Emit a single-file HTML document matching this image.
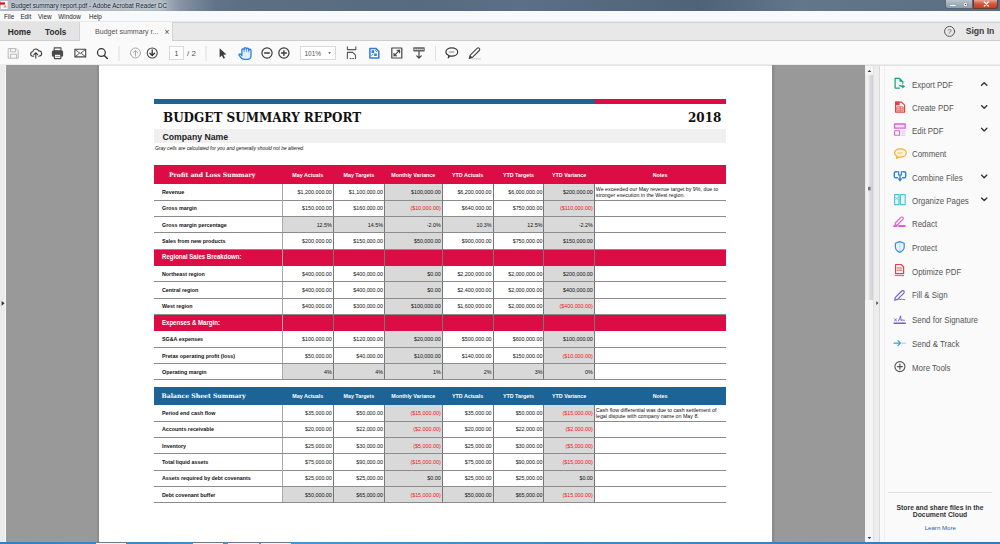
<!DOCTYPE html>
<html><head><meta charset="utf-8">
<style>
*{margin:0;padding:0;box-sizing:border-box}
html,body{width:1000px;height:544px;overflow:hidden;background:#fff;font-family:"Liberation Sans",Arial,sans-serif}
.a{position:absolute}
#title{left:0;top:0;width:1000px;height:11px;background:linear-gradient(90deg,#b4bdc6 0,#b0bac4 160px,#8593a2 180px,#62748a 215px,#5d6f82 240px,#566b80 420px,#5b7086 520px,#4e6378 700px,#63778b 800px,#5a6e82 1000px)}
#title .t{left:11px;top:0;font-size:6.3px;line-height:11px;color:#15191f;white-space:nowrap;text-shadow:0 0 3px #dfe5ea,0 0 2px #dfe5ea}
#menu{left:0;top:11px;width:1000px;height:11px;border-bottom:1px solid #e9e9e9;background:#f8f9fa;font-size:6.3px;line-height:11px;color:#1e1e1e}
#menu span{position:absolute;top:0}
#tabs{left:0;top:22px;width:1000px;height:19px;background:#e8e8e8;border-top:1px solid #d2d2d2;border-bottom:1px solid #cdcdcd}
#toolbar{left:0;top:41px;width:1000px;height:24px;background:#fafafa;border-bottom:1px solid #ececec}
#main{left:0;top:65px;width:1000px;height:479px;background:#999}
.band{position:absolute;left:154px;width:572px}
.thdr{position:absolute;left:169px;color:#fff;font-family:"DejaVu Serif",serif;font-weight:bold;font-size:6.15px;white-space:nowrap}
.chdr{position:absolute;color:#fff;font-weight:bold;font-size:5.35px;text-align:center;white-space:nowrap}
.sub{position:absolute;left:161.5px;color:#fff;font-weight:bold;font-size:6.9px;white-space:nowrap;transform:scaleX(0.88);transform-origin:0 0}
.cell{position:absolute}
.num{position:absolute;text-align:right;font-size:5.35px;color:#111;white-space:nowrap}
.neg{color:#f2141c}
.lbl{position:absolute;left:162px;font-weight:bold;font-size:5.35px;color:#111;white-space:nowrap}
.note{position:absolute;left:595.8px;width:129.5px;font-size:5.3px;line-height:6.4px;color:#111}
.vl{position:absolute;width:1px;background:#777}
.vl.lt{background:#aaa}
.hl{position:absolute;left:154px;width:572px;height:1px;background:#8c8c8c}
.pi{position:absolute;left:911.5px;font-size:8.8px;line-height:10px;color:#555;white-space:nowrap;transform:scaleX(0.9);transform-origin:0 0}
</style></head><body>
<div id="title" class="a"><div class="a t">Budget summary report.pdf - Adobe Acrobat Reader DC</div></div>
<div class="a" style="left:945px;top:0;width:28px;height:9px;background:linear-gradient(#b9c3cd,#8e9cab);border:1px solid #56677a;border-top:0;border-radius:0 0 0 3px"></div>
<div class="a" style="left:973px;top:0;width:25px;height:9px;background:linear-gradient(#e6a596,#d2553a 50%,#c73d1f);border:1px solid #6d3a30;border-top:0;border-radius:0 0 3px 0"></div>
<div id="menu" class="a"><span style="left:4px">File</span><span style="left:20.4px">Edit</span><span style="left:38px">View</span><span style="left:58.3px">Window</span><span style="left:88.9px">Help</span></div>
<div id="tabs" class="a"></div>
<div class="a" style="left:0;top:22px;width:80px;height:18px;background:#e4e4e4;border-right:1px solid #d4d4d4"></div>
<div class="a" style="left:80px;top:22px;width:93px;height:19px;background:#f9f9f9;border-right:1px solid #d4d4d4"></div>
<div class="a" style="left:7.7px;top:27px;font-size:8.4px;line-height:10px;font-weight:bold;color:#2b2b2b;white-space:nowrap">Home<span style="position:absolute;left:37.3px;top:1px;font-size:8.2px">Tools</span></div>
<div class="a" style="left:95px;top:26.5px;font-size:7.1px;line-height:10px;color:#555;white-space:nowrap">Budget summary r...</div>
<div class="a" style="left:164.6px;top:26.8px;font-size:8.4px;line-height:10px;color:#3a3a3a">&#215;</div>
<div class="a" style="left:965.7px;top:26px;font-size:8.6px;line-height:10px;font-weight:bold;color:#3a3a3a">Sign In</div>
<div id="toolbar" class="a"></div>
<div id="main" class="a"></div>
<div class="a" style="left:0;top:65px;width:6px;height:479px;background:#ebebeb;border-right:1px solid #f7f7f7"></div>
<div class="a" style="left:96.5px;top:65px;width:2.5px;height:479px;background:linear-gradient(90deg,#939393,#888)"></div>
<div class="a" style="left:772px;top:65px;width:2.5px;height:479px;background:linear-gradient(90deg,#888,#939393)"></div>
<div class="a" id="page" style="left:99px;top:65px;width:673px;height:479px;background:#fff;border-top:1px solid #e4e4e4"></div>
<!-- scrollbar -->
<div class="a" style="left:865px;top:65px;width:9px;height:479px;background:#f4f4f4;border-top:1px solid #e2e2e2"></div>
<div class="a" style="left:865px;top:75px;width:8.5px;height:225px;background:linear-gradient(90deg,#e2e2e2,#f6f6f6 25%,#dcdce0 55%,#cfcfd4 85%,#b8b8b8);border-radius:1px"></div>
<div class="a" style="left:873.5px;top:65px;width:6.5px;height:479px;background:#ededed;border-right:1px solid #dadada;border-top:1px solid #e2e2e2"></div>
<div class="a" style="left:880px;top:65px;width:120px;height:479px;background:#fafafa;border-top:1px solid #e2e2e2"></div>
<div class="a" style="left:883.5px;top:66px;width:1px;height:475px;background:#efefef"></div>
<div class="a" style="left:873px;top:66px;width:1px;height:475px;background:#e2e2e2"></div>
<div class="a" style="left:888px;top:491.5px;width:104px;height:1.5px;background:#dedede"></div>
<div class="a" style="left:880px;top:503.6px;width:120px;text-align:center;font-size:6.8px;line-height:7.2px;font-weight:bold;color:#333">Store and share files in the<br>Document Cloud</div>
<div class="a" style="left:924.7px;top:523.5px;font-size:6.1px;line-height:8px;color:#2d5ea8">Learn More</div>
<div class="a" style="left:0;top:541.5px;width:1000px;height:2.5px;background:linear-gradient(90deg,#3d7db5,#4b93c8 30%,#4587bd 60%,#3b78ad)"></div>
<div class="a" style="left:96px;top:541.5px;width:30px;height:2.5px;background:#f2f5f8;border-top:0.6px solid #6a7a8a"></div>
<div class="a" style="left:193px;top:541.5px;width:30px;height:2.5px;background:#f2f5f8;border-top:0.6px solid #6a7a8a"></div>
<div class="a" style="left:228px;top:541.5px;width:31px;height:2.5px;background:#f2f5f8;border-top:0.6px solid #6a7a8a"></div>
<div class="a" style="left:261px;top:541.5px;width:30px;height:2.5px;background:#f2f5f8;border-top:0.6px solid #6a7a8a"></div>

<!-- right panel items -->
<div class="pi" style="top:80.1px">Export PDF</div>
<div class="pi" style="top:103.0px">Create PDF</div>
<div class="pi" style="top:126.0px">Edit PDF</div>
<div class="pi" style="top:149.2px">Comment</div>
<div class="pi" style="top:172.6px">Combine Files</div>
<div class="pi" style="top:195.8px">Organize Pages</div>
<div class="pi" style="top:219.3px">Redact</div>
<div class="pi" style="top:243.0px">Protect</div>
<div class="pi" style="top:266.5px">Optimize PDF</div>
<div class="pi" style="top:290.3px">Fill &amp; Sign</div>
<div class="pi" style="top:314.6px">Send for Signature</div>
<div class="pi" style="top:338.6px">Send &amp; Track</div>
<div class="pi" style="top:362.7px">More Tools</div>

<!-- toolbar text -->
<div class="a" style="left:169px;top:46px;width:14.7px;height:13.8px;background:#fff;border:1px solid #dadada"></div>
<div class="a" style="left:169px;top:49px;width:14.7px;text-align:center;font-size:7px;line-height:10px;color:#444">1</div>
<div class="a" style="left:187px;top:49px;font-size:8px;line-height:10px;color:#555;white-space:nowrap">/ 2</div>
<div class="a" style="left:300px;top:46px;width:35.6px;height:13.8px;background:#fff;border:1px solid #dadada"></div>
<div class="a" style="left:304.5px;top:48.8px;font-size:6.5px;line-height:10px;color:#555">101%</div>

<svg class="a" style="left:0;top:0" width="1000" height="544" viewBox="0 0 1000 544" fill="none" stroke-linecap="round" stroke-linejoin="round">
<!-- title pdf icon -->
<rect x="0.8" y="1" width="6.8" height="8" fill="#f7fafa"/>
<rect x="0" y="2.4" width="5" height="2.2" fill="#e40a0a"/>
<path d="M3.4,7.4 l1.7,-2.8 l1.7,2.8 z" fill="#f28a8a"/>
<!-- window buttons glyphs -->
<path d="M950.5,5.5 h4.7" stroke="#fff" stroke-width="1.2"/>
<circle cx="965.5" cy="4.5" r="2.2" fill="#fff" stroke="#5a6a7a" stroke-width="0.5"/>
<circle cx="965.5" cy="4.5" r="0.7" fill="#333"/>
<path d="M984.3,2 l4,4 M988.3,2 l-4,4" stroke="#fff" stroke-width="1.3"/>
<!-- help -->
<circle cx="949.6" cy="31.4" r="5" stroke="#555" stroke-width="1"/>
<text x="949.6" y="34.2" font-family="Liberation Sans" font-size="7.5" fill="#555" text-anchor="middle">?</text>
<!-- save disabled -->
<path d="M8.6,48.6 h7.6 l2,2 v7.6 h-9.6 z M10.6,48.6 v3.2 h5 v-3.2 M10.6,58.2 v-4 h6 v4" stroke="#b8b8b8" stroke-width="1"/>
<!-- upload cloud -->
<g transform="translate(35.7,53.6) scale(0.86) translate(-35.7,-53.6)"><path d="M33.2,56.6 h-0.6 a2.6,2.6 0 0 1 -0.3,-5.2 a3.6,3.6 0 0 1 6.9,-0.9 a2.7,2.7 0 0 1 0.9,5.9 l-0.9,0.2" stroke="#3f3f3f" stroke-width="1.3"/>
<path d="M35.8,58.8 v-6.2 M33.6,54.8 l2.2,-2.2 l2.2,2.2" stroke="#3f3f3f" stroke-width="1.3"/></g>
<!-- print -->
<rect x="54.2" y="47.9" width="6.8" height="3" stroke="#4a4a4a" stroke-width="1.1" fill="#fff"/>
<rect x="51.9" y="50.4" width="11.2" height="6.4" rx="1.3" fill="#4a4a4a"/>
<rect x="54.4" y="54.2" width="6.4" height="4.4" fill="#fff" stroke="#4a4a4a" stroke-width="1.1"/>
<path d="M55.8,56.4 h3.6" stroke="#777" stroke-width="0.8"/>
<!-- mail -->
<rect x="74.9" y="49.3" width="10.8" height="7.6" stroke="#444" stroke-width="1.1"/>
<path d="M75.2,49.6 l5.1,3.9 l5.1,-3.9 M75.3,56.5 l3.8,-2.9 M85.3,56.5 l-3.8,-2.9" stroke="#444" stroke-width="0.9"/>
<!-- search -->
<circle cx="101.4" cy="52.6" r="3.9" stroke="#333" stroke-width="1.25"/>
<path d="M104.3,55.5 l3,3" stroke="#333" stroke-width="1.4"/>
<!-- separators -->
<path d="M119,46.5 v14 M206,46.5 v14 M435.5,46.5 v14" stroke="#dedede" stroke-width="1"/>
<!-- up/down -->
<circle cx="135.5" cy="53" r="5" stroke="#a9a9a9" stroke-width="1"/>
<path d="M135.5,56 v-5.4 M133.4,52.7 l2.1,-2.1 l2.1,2.1" stroke="#a9a9a9" stroke-width="1"/>
<circle cx="152.2" cy="53" r="5" stroke="#444" stroke-width="1.1"/>
<path d="M152.2,49.8 v5.6 M149.9,53.2 l2.3,2.3 l2.3,-2.3" stroke="#333" stroke-width="1.3"/>
<!-- cursor -->
<path d="M219.6,48.2 v9.3 l2.3,-2.1 l1.6,3.4 l1.5,-0.7 l-1.6,-3.3 l3.1,-0.2 z" fill="#3c3c3c"/>
<!-- hand -->
<path d="M241.9,55.6 L240.4,54 A1,1 0 0 0 239.1,55.4 L241.8,58.5 Q242.8,59.3 244.5,59.3 H247.6 Q251,59.3 251,55.8 V50.4 A1.15,1.15 0 0 0 248.7,50.4 V49.2 A1.15,1.15 0 0 0 246.4,49.2 V48.8 A1.15,1.15 0 0 0 244.1,48.8 V49.6 A1.15,1.15 0 0 0 241.9,49.6 Z" stroke="#2b7fe0" stroke-width="1.3" fill="#e3eefc"/>
<path d="M244.1,49.2 v2.6 M246.4,49 v2.8 M248.7,50.4 v1.6" stroke="#2b7fe0" stroke-width="0.7"/>
<!-- zoom out / in -->
<circle cx="267" cy="53" r="5.1" stroke="#3a3a3a" stroke-width="1.2"/>
<path d="M264.6,53 h4.8" stroke="#3a3a3a" stroke-width="1.3"/>
<circle cx="283.9" cy="53" r="5.1" stroke="#3a3a3a" stroke-width="1.2"/>
<path d="M281.5,53 h4.8 M283.9,50.6 v4.8" stroke="#3a3a3a" stroke-width="1.3"/>
<path d="M328.2,52.3 h2.8 l-1.4,1.6 z" fill="#444"/>
<!-- fit page -->
<path d="M347.4,46.8 v2.8 h8.4 v-2.8" stroke="#555" stroke-width="1.1"/>
<path d="M347.4,58.6 v-6.2 h5.3 l2.8,2.8 v3.4" stroke="#555" stroke-width="1.1"/>
<path d="M350,58.6 h1.2 M352.6,58.6 h1.2" stroke="#555" stroke-width="1"/>
<!-- blue doc -->
<path d="M369.9,48.4 h5.9 l3,3 v6.5 h-8.9 z" fill="#fff" stroke="#2a7de1" stroke-width="1.5"/>
<path d="M371.6,50.3 h2.6 v2.6 h-2.6 z M374.2,53.5 h2.6 v2.6 h-2.6 z" fill="#2a7de1"/>
<path d="M371.6,55.6 l1.6,-1.6 M375.4,50.4 l1.2,1.2" stroke="#2a7de1" stroke-width="0.9"/>
<!-- full screen -->
<rect x="391.8" y="48" width="10" height="10" stroke="#444" stroke-width="1.2"/>
<path d="M394,55.8 l5.6,-5.6 M397,50.2 h2.6 v2.6 M394,53.2 v2.6 h2.6" stroke="#444" stroke-width="1.1"/>
<!-- read mode -->
<rect x="413.3" y="47.2" width="11.4" height="4.2" rx="0.6" fill="#5e5e5e"/>
<path d="M414.6,49.3 h8.8" stroke="#f2f2f2" stroke-width="1" stroke-dasharray="1.1 0.9"/>
<path d="M419,51.6 v6.4 M416.7,55.8 l2.3,2.3 l2.3,-2.3" stroke="#444" stroke-width="1.2"/>
<!-- comment -->
<path d="M448.2,57.8 l0.8,-2.2 c-2,-0.8 -3.1,-2.1 -3.1,-3.6 c0,-2.4 2.7,-4.1 5.9,-4.1 c3.2,0 5.9,1.7 5.9,4.1 c0,2.4 -2.7,4.1 -5.9,4.1 c-0.6,0 -1.2,-0.1 -1.8,-0.2 z" stroke="#3a3a3a" stroke-width="1.15"/>
<path d="M449.3,52 h5" stroke="#777" stroke-width="0.9" stroke-dasharray="1 0.8"/>
<!-- pen -->
<path d="M469.2,58.6 l1,-3.4 l6.9,-6.9 c0.6,-0.6 1.6,-0.6 2.2,0 c0.6,0.6 0.6,1.6 0,2.2 l-6.9,6.9 z" stroke="#444" stroke-width="1.1" fill="#fff"/>
<path d="M469.2,58.6 l1,-3.4 l2.4,2.4 z" fill="#444"/>
<path d="M472.5,58.9 h7.8" stroke="#d4d4d4" stroke-width="1.3"/>
<!-- scrollbar arrows -->
<rect x="868" y="186.8" width="2.6" height="3.6" fill="#7a7a7a"/>
<path d="M867.6,72 l1.8,-2 l1.8,2 z" fill="#333"/>
<path d="M867.6,537 l1.8,2 l1.8,-2 z" fill="#333"/>
<path d="M876.3,301.3 l2,1.8 l-2,1.8 z" fill="#333"/>
<path d="M1.6,300.9 l3,2.4 l-3,2.4 z" fill="#333"/>
<!-- right panel icons -->
<!-- export pdf -->
<path d="M899.4,88 h-4.3 v-9.6 h4.4 l3.3,3.3 v1.6" stroke="#18a17b" stroke-width="1.25"/>
<path d="M899.5,78.6 v3.2 h3.2 z" fill="#18a17b"/>
<path d="M896.8,80.5 l2.4,6" stroke="#bfe6da" stroke-width="0.7"/>
<path d="M899.6,85.6 l2.6,0.8" stroke="#18a17b" stroke-width="1.3"/>
<path d="M902.2,84.3 l3,2.2 l-3,2.1 z" fill="#18a17b"/>
<!-- create pdf -->
<path d="M895.6,102.2 h6 l3,3 v7 h-9 z" stroke="#e0433f" stroke-width="1.2" fill="#fff"/>
<path d="M895,101.6 h4.6 v3.8 h-4.6 z" fill="#e0433f"/>
<path d="M897.2,106.8 h6 v4 h-6 z" fill="#f6c9c7" stroke="#e0433f" stroke-width="0.7"/>
<path d="M900.2,106.8 v4 M897.2,108.8 h6" stroke="#e0433f" stroke-width="0.6"/>
<!-- edit pdf -->
<rect x="894.6" y="124" width="10.6" height="4.2" stroke="#d963d6" stroke-width="1.3" fill="#f8e0f7"/>
<rect x="894.6" y="130.8" width="5" height="4.4" stroke="#d963d6" stroke-width="1.1"/>
<path d="M901.6,131.2 h3.2 M901.6,133.2 h3.2 M901.6,135.2 h3.2" stroke="#e9a3e7" stroke-width="0.8"/>
<!-- comment -->
<path d="M896.5,158.4 l0.6,-2 c-1.6,-0.8 -2.6,-2 -2.6,-3.4 c0,-2.3 2.6,-4.1 5.9,-4.1 c3.3,0 5.9,1.8 5.9,4.1 c0,2.3 -2.6,4.1 -5.9,4.1 c-0.6,0 -1.2,-0.1 -1.7,-0.2 z" stroke="#f0b22d" stroke-width="1.2" fill="#fdf3dc"/>
<path d="M898,153 h4" stroke="#f0b22d" stroke-width="0.8" stroke-dasharray="1 0.7"/>
<!-- combine -->
<path d="M897.2,171.8 h-1.6 a1.3,1.3 0 0 0 -1.3,1.3 v3.3 a1.3,1.3 0 0 0 1.3,1.3 h1.8" stroke="#2d7fd9" stroke-width="1.4"/>
<path d="M902.8,171.8 h1.6 a1.3,1.3 0 0 1 1.3,1.3 v3.3 a1.3,1.3 0 0 1 -1.3,1.3 h-1.8" stroke="#2d7fd9" stroke-width="1.4"/>
<path d="M898.6,171.6 v3.4 h2.8 v-3.4" stroke="#2d7fd9" stroke-width="1.2"/>
<path d="M900,175.5 v3.5" stroke="#2d7fd9" stroke-width="1.4"/>
<path d="M897.6,178.4 h4.8 l-2.4,3.4 z" fill="#2d7fd9"/>
<!-- organize -->
<rect x="894.6" y="194.6" width="4.4" height="10" stroke="#4fc0d8" stroke-width="1.1" fill="#e6f7fb"/>
<rect x="900.4" y="194.6" width="4.8" height="10" stroke="#4fc0d8" stroke-width="1.1" fill="#e6f7fb"/>
<path d="M895.8,197.6 l1.8,1.8 M897.6,197.6 l-1.8,1.8" stroke="#4fc0d8" stroke-width="0.8"/>
<!-- redact -->
<path d="M895.3,223 l5.6,-5.6 c0.6,-0.6 1.5,-0.6 2,0 c0.6,0.6 0.6,1.4 0,2 l-5.6,5.6 h-2 z" stroke="#e45ad5" stroke-width="1.1"/>
<path d="M894.2,226 h2.4 M899,226 h5.8" stroke="#e45ad5" stroke-width="2"/>
<!-- protect -->
<path d="M899.8,241.6 l4.4,1.6 v3.8 c0,2.6 -1.8,4.2 -4.4,5.4 c-2.6,-1.2 -4.4,-2.8 -4.4,-5.4 v-3.8 z" stroke="#3b8be6" stroke-width="1.2" fill="#eaf3fd"/>
<path d="M899.8,244 v6.6" stroke="#a9cdf4" stroke-width="0.8"/>
<!-- optimize -->
<path d="M895.6,264.5 h5.6 l2.4,2.4 v6.7 h-8 z" stroke="#e0433f" stroke-width="1.2"/>
<path d="M897.2,268 h4.6 M897.2,270.2 h4.6" stroke="#e0433f" stroke-width="0.9"/>
<path d="M895.2,275.6 h8.6" stroke="#e0433f" stroke-width="0.9" stroke-dasharray="1.2 0.6"/>
<!-- fill sign -->
<path d="M894.6,300.2 l0.8,-2.9 l6.3,-6.3 c0.6,-0.6 1.5,-0.6 2.1,0 c0.6,0.6 0.6,1.5 0,2.1 l-6.3,6.3 z" stroke="#6d5fec" stroke-width="1.15"/>
<path d="M898.6,299.8 c0.8,-1.3 1.6,-1.3 2,0 c0.4,-1 1.2,-1 1.6,0 c0.5,-0.6 1.3,-0.6 2.6,0" stroke="#6d5fec" stroke-width="1"/>
<!-- send for signature -->
<path d="M894.6,319 l1.8,1.8 M896.4,319 l-1.8,1.8" stroke="#6a5fe2" stroke-width="1"/>
<path d="M898.6,320.8 c0.8,-1 1.6,-3.2 2,-5 c0.4,1.8 0.1,3.6 0.4,4.8 c0.5,-0.6 1.2,-0.9 1.8,-0.6 c0.4,0.2 1,0.5 1.6,0.4" stroke="#6a5fe2" stroke-width="1"/>
<path d="M894.2,323.2 h11" stroke="#6a5fe2" stroke-width="1.6"/>
<!-- send & track -->
<path d="M894,343.2 h6.6 M898,340.7 l2.5,2.5 l-2.5,2.5" stroke="#34a0e0" stroke-width="1.2"/>
<path d="M902.2,343.2 h3.6" stroke="#8fcaee" stroke-width="0.9"/>
<!-- more tools -->
<circle cx="899.9" cy="366.6" r="5" stroke="#555" stroke-width="1.1"/>
<path d="M897.4,366.6 h5 M899.9,364.1 v5" stroke="#555" stroke-width="1.2"/>
<!-- chevrons -->
<path d="M981.5,85.3 l2.7,-2.6 l2.7,2.6" stroke="#333" stroke-width="1.35"/>
<path d="M981.5,105.6 l2.7,2.6 l2.7,-2.6" stroke="#333" stroke-width="1.35"/>
<path d="M981.5,128.3 l2.7,2.6 l2.7,-2.6" stroke="#333" stroke-width="1.35"/>
<path d="M981.5,175.1 l2.7,2.6 l2.7,-2.6" stroke="#333" stroke-width="1.35"/>
<path d="M981.5,197.9 l2.7,2.6 l2.7,-2.6" stroke="#333" stroke-width="1.35"/>
</svg>


<!-- document -->
<div class="a" style="left:154px;top:98.5px;width:441px;height:5.5px;background:#1c6396"></div>
<div class="a" style="left:595px;top:98.5px;width:131px;height:5.5px;background:#dc0d45"></div>
<div class="a" style="left:163px;top:109.5px;font-family:'DejaVu Serif',serif;font-weight:bold;font-size:12px;line-height:16px;color:#111;white-space:nowrap">BUDGET SUMMARY REPORT</div>
<div class="a" style="left:688px;top:109.5px;font-family:'DejaVu Serif',serif;font-weight:bold;font-size:12px;line-height:16px;color:#111">2018</div>
<div class="a" style="left:154px;top:129px;width:572px;height:14px;background:#f0f0f0"></div>
<div class="a" style="left:162.5px;top:131px;font-weight:bold;font-size:8.7px;line-height:12px;color:#222">Company Name</div>
<div class="a" style="left:155px;top:145.5px;font-style:italic;font-size:4.92px;line-height:6px;color:#111;white-space:nowrap">Gray cells are calculated for you and generally should not be altered.</div>
<div class="band" style="top:165px;height:19px;background:#dc0d45"></div>
<div class="cell" style="left:384.5px;width:57.69999999999999px;top:184px;height:16.35px;background:#d9d9d9"></div>
<div class="cell" style="left:543.9px;width:50.39999999999998px;top:184px;height:16.35px;background:#d9d9d9"></div>
<div class="cell" style="left:384.5px;width:57.69999999999999px;top:200.35px;height:16.35px;background:#d9d9d9"></div>
<div class="cell" style="left:543.9px;width:50.39999999999998px;top:200.35px;height:16.35px;background:#d9d9d9"></div>
<div class="cell" style="left:282.3px;width:51.0px;top:216.7px;height:16.35px;background:#d9d9d9"></div>
<div class="cell" style="left:333.3px;width:51.19999999999999px;top:216.7px;height:16.35px;background:#d9d9d9"></div>
<div class="cell" style="left:384.5px;width:57.69999999999999px;top:216.7px;height:16.35px;background:#d9d9d9"></div>
<div class="cell" style="left:442.2px;width:50.900000000000034px;top:216.7px;height:16.35px;background:#d9d9d9"></div>
<div class="cell" style="left:493.1px;width:50.799999999999955px;top:216.7px;height:16.35px;background:#d9d9d9"></div>
<div class="cell" style="left:543.9px;width:50.39999999999998px;top:216.7px;height:16.35px;background:#d9d9d9"></div>
<div class="cell" style="left:384.5px;width:57.69999999999999px;top:233.04999999999998px;height:16.35px;background:#d9d9d9"></div>
<div class="cell" style="left:543.9px;width:50.39999999999998px;top:233.04999999999998px;height:16.35px;background:#d9d9d9"></div>
<div class="band" style="top:249.39999999999998px;height:16.35px;background:#dc0d45"></div>
<div class="cell" style="left:384.5px;width:57.69999999999999px;top:265.75px;height:16.35px;background:#d9d9d9"></div>
<div class="cell" style="left:543.9px;width:50.39999999999998px;top:265.75px;height:16.35px;background:#d9d9d9"></div>
<div class="cell" style="left:384.5px;width:57.69999999999999px;top:282.1px;height:16.35px;background:#d9d9d9"></div>
<div class="cell" style="left:543.9px;width:50.39999999999998px;top:282.1px;height:16.35px;background:#d9d9d9"></div>
<div class="cell" style="left:384.5px;width:57.69999999999999px;top:298.45000000000005px;height:16.35px;background:#d9d9d9"></div>
<div class="cell" style="left:543.9px;width:50.39999999999998px;top:298.45000000000005px;height:16.35px;background:#d9d9d9"></div>
<div class="band" style="top:314.80000000000007px;height:16.35px;background:#dc0d45"></div>
<div class="cell" style="left:384.5px;width:57.69999999999999px;top:331.1500000000001px;height:16.35px;background:#d9d9d9"></div>
<div class="cell" style="left:543.9px;width:50.39999999999998px;top:331.1500000000001px;height:16.35px;background:#d9d9d9"></div>
<div class="cell" style="left:384.5px;width:57.69999999999999px;top:347.5000000000001px;height:16.35px;background:#d9d9d9"></div>
<div class="cell" style="left:543.9px;width:50.39999999999998px;top:347.5000000000001px;height:16.35px;background:#d9d9d9"></div>
<div class="cell" style="left:282.3px;width:51.0px;top:363.85000000000014px;height:16.35px;background:#d9d9d9"></div>
<div class="cell" style="left:333.3px;width:51.19999999999999px;top:363.85000000000014px;height:16.35px;background:#d9d9d9"></div>
<div class="cell" style="left:384.5px;width:57.69999999999999px;top:363.85000000000014px;height:16.35px;background:#d9d9d9"></div>
<div class="cell" style="left:442.2px;width:50.900000000000034px;top:363.85000000000014px;height:16.35px;background:#d9d9d9"></div>
<div class="cell" style="left:493.1px;width:50.799999999999955px;top:363.85000000000014px;height:16.35px;background:#d9d9d9"></div>
<div class="cell" style="left:543.9px;width:50.39999999999998px;top:363.85000000000014px;height:16.35px;background:#d9d9d9"></div>
<div class="vl lt" style="left:281.8px;top:184px;height:16.35px"></div>
<div class="vl" style="left:332.8px;top:184px;height:16.35px"></div>
<div class="vl" style="left:384.0px;top:184px;height:16.35px"></div>
<div class="vl" style="left:441.7px;top:184px;height:16.35px"></div>
<div class="vl" style="left:492.6px;top:184px;height:16.35px"></div>
<div class="vl" style="left:543.4px;top:184px;height:16.35px"></div>
<div class="vl" style="left:593.8px;top:184px;height:16.35px"></div>
<div class="hl" style="top:199.54999999999998px"></div>
<div class="vl lt" style="left:281.8px;top:200.35px;height:16.35px"></div>
<div class="vl" style="left:332.8px;top:200.35px;height:16.35px"></div>
<div class="vl" style="left:384.0px;top:200.35px;height:16.35px"></div>
<div class="vl" style="left:441.7px;top:200.35px;height:16.35px"></div>
<div class="vl" style="left:492.6px;top:200.35px;height:16.35px"></div>
<div class="vl" style="left:543.4px;top:200.35px;height:16.35px"></div>
<div class="vl" style="left:593.8px;top:200.35px;height:16.35px"></div>
<div class="hl" style="top:215.89999999999998px"></div>
<div class="vl lt" style="left:281.8px;top:216.7px;height:16.35px"></div>
<div class="vl" style="left:332.8px;top:216.7px;height:16.35px"></div>
<div class="vl" style="left:384.0px;top:216.7px;height:16.35px"></div>
<div class="vl" style="left:441.7px;top:216.7px;height:16.35px"></div>
<div class="vl" style="left:492.6px;top:216.7px;height:16.35px"></div>
<div class="vl" style="left:543.4px;top:216.7px;height:16.35px"></div>
<div class="vl" style="left:593.8px;top:216.7px;height:16.35px"></div>
<div class="hl" style="top:232.24999999999997px"></div>
<div class="vl lt" style="left:281.8px;top:233.04999999999998px;height:16.35px"></div>
<div class="vl" style="left:332.8px;top:233.04999999999998px;height:16.35px"></div>
<div class="vl" style="left:384.0px;top:233.04999999999998px;height:16.35px"></div>
<div class="vl" style="left:441.7px;top:233.04999999999998px;height:16.35px"></div>
<div class="vl" style="left:492.6px;top:233.04999999999998px;height:16.35px"></div>
<div class="vl" style="left:543.4px;top:233.04999999999998px;height:16.35px"></div>
<div class="vl" style="left:593.8px;top:233.04999999999998px;height:16.35px"></div>
<div class="hl" style="top:248.59999999999997px"></div>
<div class="vl" style="left:332.8px;top:249.39999999999998px;height:16.35px"></div>
<div class="vl" style="left:384.0px;top:249.39999999999998px;height:16.35px"></div>
<div class="vl" style="left:441.7px;top:249.39999999999998px;height:16.35px"></div>
<div class="vl" style="left:492.6px;top:249.39999999999998px;height:16.35px"></div>
<div class="vl" style="left:543.4px;top:249.39999999999998px;height:16.35px"></div>
<div class="vl" style="left:593.8px;top:249.39999999999998px;height:16.35px"></div>
<div class="vl lt" style="left:281.8px;top:249.39999999999998px;height:16.35px"></div>
<div class="vl lt" style="left:281.8px;top:265.75px;height:16.35px"></div>
<div class="vl" style="left:332.8px;top:265.75px;height:16.35px"></div>
<div class="vl" style="left:384.0px;top:265.75px;height:16.35px"></div>
<div class="vl" style="left:441.7px;top:265.75px;height:16.35px"></div>
<div class="vl" style="left:492.6px;top:265.75px;height:16.35px"></div>
<div class="vl" style="left:543.4px;top:265.75px;height:16.35px"></div>
<div class="vl" style="left:593.8px;top:265.75px;height:16.35px"></div>
<div class="hl" style="top:281.3px"></div>
<div class="vl lt" style="left:281.8px;top:282.1px;height:16.35px"></div>
<div class="vl" style="left:332.8px;top:282.1px;height:16.35px"></div>
<div class="vl" style="left:384.0px;top:282.1px;height:16.35px"></div>
<div class="vl" style="left:441.7px;top:282.1px;height:16.35px"></div>
<div class="vl" style="left:492.6px;top:282.1px;height:16.35px"></div>
<div class="vl" style="left:543.4px;top:282.1px;height:16.35px"></div>
<div class="vl" style="left:593.8px;top:282.1px;height:16.35px"></div>
<div class="hl" style="top:297.65000000000003px"></div>
<div class="vl lt" style="left:281.8px;top:298.45000000000005px;height:16.35px"></div>
<div class="vl" style="left:332.8px;top:298.45000000000005px;height:16.35px"></div>
<div class="vl" style="left:384.0px;top:298.45000000000005px;height:16.35px"></div>
<div class="vl" style="left:441.7px;top:298.45000000000005px;height:16.35px"></div>
<div class="vl" style="left:492.6px;top:298.45000000000005px;height:16.35px"></div>
<div class="vl" style="left:543.4px;top:298.45000000000005px;height:16.35px"></div>
<div class="vl" style="left:593.8px;top:298.45000000000005px;height:16.35px"></div>
<div class="hl" style="top:314.00000000000006px"></div>
<div class="vl" style="left:332.8px;top:314.80000000000007px;height:16.35px"></div>
<div class="vl" style="left:384.0px;top:314.80000000000007px;height:16.35px"></div>
<div class="vl" style="left:441.7px;top:314.80000000000007px;height:16.35px"></div>
<div class="vl" style="left:492.6px;top:314.80000000000007px;height:16.35px"></div>
<div class="vl" style="left:543.4px;top:314.80000000000007px;height:16.35px"></div>
<div class="vl" style="left:593.8px;top:314.80000000000007px;height:16.35px"></div>
<div class="vl lt" style="left:281.8px;top:314.80000000000007px;height:16.35px"></div>
<div class="vl lt" style="left:281.8px;top:331.1500000000001px;height:16.35px"></div>
<div class="vl" style="left:332.8px;top:331.1500000000001px;height:16.35px"></div>
<div class="vl" style="left:384.0px;top:331.1500000000001px;height:16.35px"></div>
<div class="vl" style="left:441.7px;top:331.1500000000001px;height:16.35px"></div>
<div class="vl" style="left:492.6px;top:331.1500000000001px;height:16.35px"></div>
<div class="vl" style="left:543.4px;top:331.1500000000001px;height:16.35px"></div>
<div class="vl" style="left:593.8px;top:331.1500000000001px;height:16.35px"></div>
<div class="hl" style="top:346.7000000000001px"></div>
<div class="vl lt" style="left:281.8px;top:347.5000000000001px;height:16.35px"></div>
<div class="vl" style="left:332.8px;top:347.5000000000001px;height:16.35px"></div>
<div class="vl" style="left:384.0px;top:347.5000000000001px;height:16.35px"></div>
<div class="vl" style="left:441.7px;top:347.5000000000001px;height:16.35px"></div>
<div class="vl" style="left:492.6px;top:347.5000000000001px;height:16.35px"></div>
<div class="vl" style="left:543.4px;top:347.5000000000001px;height:16.35px"></div>
<div class="vl" style="left:593.8px;top:347.5000000000001px;height:16.35px"></div>
<div class="hl" style="top:363.0500000000001px"></div>
<div class="vl lt" style="left:281.8px;top:363.85000000000014px;height:16.35px"></div>
<div class="vl" style="left:332.8px;top:363.85000000000014px;height:16.35px"></div>
<div class="vl" style="left:384.0px;top:363.85000000000014px;height:16.35px"></div>
<div class="vl" style="left:441.7px;top:363.85000000000014px;height:16.35px"></div>
<div class="vl" style="left:492.6px;top:363.85000000000014px;height:16.35px"></div>
<div class="vl" style="left:543.4px;top:363.85000000000014px;height:16.35px"></div>
<div class="vl" style="left:593.8px;top:363.85000000000014px;height:16.35px"></div>
<div class="hl" style="top:379.40000000000015px"></div>
<div class="thdr" style="left:169px;top:165px;height:19px;line-height:19px">Profit and Loss Summary</div>
<div class="chdr" style="left:282.3px;width:51.0px;top:165.7px;height:19px;line-height:19px">May Actuals</div>
<div class="chdr" style="left:333.3px;width:51.19999999999999px;top:165.7px;height:19px;line-height:19px">May Targets</div>
<div class="chdr" style="left:384.5px;width:57.69999999999999px;top:165.7px;height:19px;line-height:19px">Monthly Variance</div>
<div class="chdr" style="left:442.2px;width:50.900000000000034px;top:165.7px;height:19px;line-height:19px">YTD Actuals</div>
<div class="chdr" style="left:493.1px;width:50.799999999999955px;top:165.7px;height:19px;line-height:19px">YTD Targets</div>
<div class="chdr" style="left:543.9px;width:50.39999999999998px;top:165.7px;height:19px;line-height:19px">YTD Variance</div>
<div class="chdr" style="left:594.3px;width:131.70000000000005px;top:165.7px;height:19px;line-height:19px">Notes</div>
<div class="num" style="left:282.3px;width:49.5px;top:184px;height:16.35px;line-height:16.35px">$1,200,000.00</div>
<div class="num" style="left:333.3px;width:49.69999999999999px;top:184px;height:16.35px;line-height:16.35px">$1,100,000.00</div>
<div class="num" style="left:384.5px;width:56.19999999999999px;top:184px;height:16.35px;line-height:16.35px">$100,000.00</div>
<div class="num" style="left:442.2px;width:49.400000000000034px;top:184px;height:16.35px;line-height:16.35px">$6,200,000.00</div>
<div class="num" style="left:493.1px;width:49.299999999999955px;top:184px;height:16.35px;line-height:16.35px">$6,000,000.00</div>
<div class="num" style="left:543.9px;width:48.89999999999998px;top:184px;height:16.35px;line-height:16.35px">$200,000.00</div>
<div class="lbl" style="top:184px;height:16.35px;line-height:16.35px">Revenue</div>
<div class="note" style="top:185.5px">We exceeded our May revenue target by 9%, due to stronger execution in the West region.</div>
<div class="num" style="left:282.3px;width:49.5px;top:200.35px;height:16.35px;line-height:16.35px">$150,000.00</div>
<div class="num" style="left:333.3px;width:49.69999999999999px;top:200.35px;height:16.35px;line-height:16.35px">$160,000.00</div>
<div class="num neg" style="left:384.5px;width:56.19999999999999px;top:200.35px;height:16.35px;line-height:16.35px">($10,000.00)</div>
<div class="num" style="left:442.2px;width:49.400000000000034px;top:200.35px;height:16.35px;line-height:16.35px">$640,000.00</div>
<div class="num" style="left:493.1px;width:49.299999999999955px;top:200.35px;height:16.35px;line-height:16.35px">$750,000.00</div>
<div class="num neg" style="left:543.9px;width:48.89999999999998px;top:200.35px;height:16.35px;line-height:16.35px">($110,000.00)</div>
<div class="lbl" style="top:200.35px;height:16.35px;line-height:16.35px">Gross margin</div>
<div class="num" style="left:282.3px;width:49.5px;top:216.7px;height:16.35px;line-height:16.35px">12.5%</div>
<div class="num" style="left:333.3px;width:49.69999999999999px;top:216.7px;height:16.35px;line-height:16.35px">14.5%</div>
<div class="num" style="left:384.5px;width:56.19999999999999px;top:216.7px;height:16.35px;line-height:16.35px">-2.0%</div>
<div class="num" style="left:442.2px;width:49.400000000000034px;top:216.7px;height:16.35px;line-height:16.35px">10.3%</div>
<div class="num" style="left:493.1px;width:49.299999999999955px;top:216.7px;height:16.35px;line-height:16.35px">12.5%</div>
<div class="num" style="left:543.9px;width:48.89999999999998px;top:216.7px;height:16.35px;line-height:16.35px">-2.2%</div>
<div class="lbl" style="top:216.7px;height:16.35px;line-height:16.35px">Gross margin percentage</div>
<div class="num" style="left:282.3px;width:49.5px;top:233.04999999999998px;height:16.35px;line-height:16.35px">$200,000.00</div>
<div class="num" style="left:333.3px;width:49.69999999999999px;top:233.04999999999998px;height:16.35px;line-height:16.35px">$150,000.00</div>
<div class="num" style="left:384.5px;width:56.19999999999999px;top:233.04999999999998px;height:16.35px;line-height:16.35px">$50,000.00</div>
<div class="num" style="left:442.2px;width:49.400000000000034px;top:233.04999999999998px;height:16.35px;line-height:16.35px">$900,000.00</div>
<div class="num" style="left:493.1px;width:49.299999999999955px;top:233.04999999999998px;height:16.35px;line-height:16.35px">$750,000.00</div>
<div class="num" style="left:543.9px;width:48.89999999999998px;top:233.04999999999998px;height:16.35px;line-height:16.35px">$150,000.00</div>
<div class="lbl" style="top:233.04999999999998px;height:16.35px;line-height:16.35px">Sales from new products</div>
<div class="sub" style="top:249.39999999999998px;height:16.35px;line-height:16.35px">Regional Sales Breakdown:</div>
<div class="num" style="left:282.3px;width:49.5px;top:265.75px;height:16.35px;line-height:16.35px">$400,000.00</div>
<div class="num" style="left:333.3px;width:49.69999999999999px;top:265.75px;height:16.35px;line-height:16.35px">$400,000.00</div>
<div class="num" style="left:384.5px;width:56.19999999999999px;top:265.75px;height:16.35px;line-height:16.35px">$0.00</div>
<div class="num" style="left:442.2px;width:49.400000000000034px;top:265.75px;height:16.35px;line-height:16.35px">$2,200,000.00</div>
<div class="num" style="left:493.1px;width:49.299999999999955px;top:265.75px;height:16.35px;line-height:16.35px">$2,000,000.00</div>
<div class="num" style="left:543.9px;width:48.89999999999998px;top:265.75px;height:16.35px;line-height:16.35px">$200,000.00</div>
<div class="lbl" style="top:265.75px;height:16.35px;line-height:16.35px">Northeast region</div>
<div class="num" style="left:282.3px;width:49.5px;top:282.1px;height:16.35px;line-height:16.35px">$400,000.00</div>
<div class="num" style="left:333.3px;width:49.69999999999999px;top:282.1px;height:16.35px;line-height:16.35px">$400,000.00</div>
<div class="num" style="left:384.5px;width:56.19999999999999px;top:282.1px;height:16.35px;line-height:16.35px">$0.00</div>
<div class="num" style="left:442.2px;width:49.400000000000034px;top:282.1px;height:16.35px;line-height:16.35px">$2,400,000.00</div>
<div class="num" style="left:493.1px;width:49.299999999999955px;top:282.1px;height:16.35px;line-height:16.35px">$2,000,000.00</div>
<div class="num" style="left:543.9px;width:48.89999999999998px;top:282.1px;height:16.35px;line-height:16.35px">$400,000.00</div>
<div class="lbl" style="top:282.1px;height:16.35px;line-height:16.35px">Central region</div>
<div class="num" style="left:282.3px;width:49.5px;top:298.45000000000005px;height:16.35px;line-height:16.35px">$400,000.00</div>
<div class="num" style="left:333.3px;width:49.69999999999999px;top:298.45000000000005px;height:16.35px;line-height:16.35px">$300,000.00</div>
<div class="num" style="left:384.5px;width:56.19999999999999px;top:298.45000000000005px;height:16.35px;line-height:16.35px">$100,000.00</div>
<div class="num" style="left:442.2px;width:49.400000000000034px;top:298.45000000000005px;height:16.35px;line-height:16.35px">$1,600,000.00</div>
<div class="num" style="left:493.1px;width:49.299999999999955px;top:298.45000000000005px;height:16.35px;line-height:16.35px">$2,000,000.00</div>
<div class="num neg" style="left:543.9px;width:48.89999999999998px;top:298.45000000000005px;height:16.35px;line-height:16.35px">($400,000.00)</div>
<div class="lbl" style="top:298.45000000000005px;height:16.35px;line-height:16.35px">West region</div>
<div class="sub" style="top:314.80000000000007px;height:16.35px;line-height:16.35px">Expenses &amp; Margin:</div>
<div class="num" style="left:282.3px;width:49.5px;top:331.1500000000001px;height:16.35px;line-height:16.35px">$100,000.00</div>
<div class="num" style="left:333.3px;width:49.69999999999999px;top:331.1500000000001px;height:16.35px;line-height:16.35px">$120,000.00</div>
<div class="num" style="left:384.5px;width:56.19999999999999px;top:331.1500000000001px;height:16.35px;line-height:16.35px">$20,000.00</div>
<div class="num" style="left:442.2px;width:49.400000000000034px;top:331.1500000000001px;height:16.35px;line-height:16.35px">$500,000.00</div>
<div class="num" style="left:493.1px;width:49.299999999999955px;top:331.1500000000001px;height:16.35px;line-height:16.35px">$600,000.00</div>
<div class="num" style="left:543.9px;width:48.89999999999998px;top:331.1500000000001px;height:16.35px;line-height:16.35px">$100,000.00</div>
<div class="lbl" style="top:331.1500000000001px;height:16.35px;line-height:16.35px">SG&amp;A expenses</div>
<div class="num" style="left:282.3px;width:49.5px;top:347.5000000000001px;height:16.35px;line-height:16.35px">$50,000.00</div>
<div class="num" style="left:333.3px;width:49.69999999999999px;top:347.5000000000001px;height:16.35px;line-height:16.35px">$40,000.00</div>
<div class="num" style="left:384.5px;width:56.19999999999999px;top:347.5000000000001px;height:16.35px;line-height:16.35px">$10,000.00</div>
<div class="num" style="left:442.2px;width:49.400000000000034px;top:347.5000000000001px;height:16.35px;line-height:16.35px">$140,000.00</div>
<div class="num" style="left:493.1px;width:49.299999999999955px;top:347.5000000000001px;height:16.35px;line-height:16.35px">$150,000.00</div>
<div class="num neg" style="left:543.9px;width:48.89999999999998px;top:347.5000000000001px;height:16.35px;line-height:16.35px">($10,000.00)</div>
<div class="lbl" style="top:347.5000000000001px;height:16.35px;line-height:16.35px">Pretax operating profit (loss)</div>
<div class="num" style="left:282.3px;width:49.5px;top:363.85000000000014px;height:16.35px;line-height:16.35px">4%</div>
<div class="num" style="left:333.3px;width:49.69999999999999px;top:363.85000000000014px;height:16.35px;line-height:16.35px">4%</div>
<div class="num" style="left:384.5px;width:56.19999999999999px;top:363.85000000000014px;height:16.35px;line-height:16.35px">1%</div>
<div class="num" style="left:442.2px;width:49.400000000000034px;top:363.85000000000014px;height:16.35px;line-height:16.35px">2%</div>
<div class="num" style="left:493.1px;width:49.299999999999955px;top:363.85000000000014px;height:16.35px;line-height:16.35px">3%</div>
<div class="num" style="left:543.9px;width:48.89999999999998px;top:363.85000000000014px;height:16.35px;line-height:16.35px">0%</div>
<div class="lbl" style="top:363.85000000000014px;height:16.35px;line-height:16.35px">Operating margin</div>
<div class="band" style="top:386.5px;height:18.5px;background:#1c6396"></div>
<div class="cell" style="left:384.5px;width:57.69999999999999px;top:405.0px;height:16.35px;background:#d9d9d9"></div>
<div class="cell" style="left:543.9px;width:50.39999999999998px;top:405.0px;height:16.35px;background:#d9d9d9"></div>
<div class="cell" style="left:384.5px;width:57.69999999999999px;top:421.35px;height:16.35px;background:#d9d9d9"></div>
<div class="cell" style="left:543.9px;width:50.39999999999998px;top:421.35px;height:16.35px;background:#d9d9d9"></div>
<div class="cell" style="left:384.5px;width:57.69999999999999px;top:437.70000000000005px;height:16.35px;background:#d9d9d9"></div>
<div class="cell" style="left:543.9px;width:50.39999999999998px;top:437.70000000000005px;height:16.35px;background:#d9d9d9"></div>
<div class="cell" style="left:384.5px;width:57.69999999999999px;top:454.05000000000007px;height:16.35px;background:#d9d9d9"></div>
<div class="cell" style="left:543.9px;width:50.39999999999998px;top:454.05000000000007px;height:16.35px;background:#d9d9d9"></div>
<div class="cell" style="left:384.5px;width:57.69999999999999px;top:470.4000000000001px;height:16.35px;background:#d9d9d9"></div>
<div class="cell" style="left:543.9px;width:50.39999999999998px;top:470.4000000000001px;height:16.35px;background:#d9d9d9"></div>
<div class="cell" style="left:282.3px;width:51.0px;top:486.7500000000001px;height:16.35px;background:#d9d9d9"></div>
<div class="cell" style="left:333.3px;width:51.19999999999999px;top:486.7500000000001px;height:16.35px;background:#d9d9d9"></div>
<div class="cell" style="left:384.5px;width:57.69999999999999px;top:486.7500000000001px;height:16.35px;background:#d9d9d9"></div>
<div class="cell" style="left:442.2px;width:50.900000000000034px;top:486.7500000000001px;height:16.35px;background:#d9d9d9"></div>
<div class="cell" style="left:493.1px;width:50.799999999999955px;top:486.7500000000001px;height:16.35px;background:#d9d9d9"></div>
<div class="cell" style="left:543.9px;width:50.39999999999998px;top:486.7500000000001px;height:16.35px;background:#d9d9d9"></div>
<div class="vl lt" style="left:281.8px;top:405.0px;height:16.35px"></div>
<div class="vl" style="left:332.8px;top:405.0px;height:16.35px"></div>
<div class="vl" style="left:384.0px;top:405.0px;height:16.35px"></div>
<div class="vl" style="left:441.7px;top:405.0px;height:16.35px"></div>
<div class="vl" style="left:492.6px;top:405.0px;height:16.35px"></div>
<div class="vl" style="left:543.4px;top:405.0px;height:16.35px"></div>
<div class="vl" style="left:593.8px;top:405.0px;height:16.35px"></div>
<div class="hl" style="top:420.55px"></div>
<div class="vl lt" style="left:281.8px;top:421.35px;height:16.35px"></div>
<div class="vl" style="left:332.8px;top:421.35px;height:16.35px"></div>
<div class="vl" style="left:384.0px;top:421.35px;height:16.35px"></div>
<div class="vl" style="left:441.7px;top:421.35px;height:16.35px"></div>
<div class="vl" style="left:492.6px;top:421.35px;height:16.35px"></div>
<div class="vl" style="left:543.4px;top:421.35px;height:16.35px"></div>
<div class="vl" style="left:593.8px;top:421.35px;height:16.35px"></div>
<div class="hl" style="top:436.90000000000003px"></div>
<div class="vl lt" style="left:281.8px;top:437.70000000000005px;height:16.35px"></div>
<div class="vl" style="left:332.8px;top:437.70000000000005px;height:16.35px"></div>
<div class="vl" style="left:384.0px;top:437.70000000000005px;height:16.35px"></div>
<div class="vl" style="left:441.7px;top:437.70000000000005px;height:16.35px"></div>
<div class="vl" style="left:492.6px;top:437.70000000000005px;height:16.35px"></div>
<div class="vl" style="left:543.4px;top:437.70000000000005px;height:16.35px"></div>
<div class="vl" style="left:593.8px;top:437.70000000000005px;height:16.35px"></div>
<div class="hl" style="top:453.25000000000006px"></div>
<div class="vl lt" style="left:281.8px;top:454.05000000000007px;height:16.35px"></div>
<div class="vl" style="left:332.8px;top:454.05000000000007px;height:16.35px"></div>
<div class="vl" style="left:384.0px;top:454.05000000000007px;height:16.35px"></div>
<div class="vl" style="left:441.7px;top:454.05000000000007px;height:16.35px"></div>
<div class="vl" style="left:492.6px;top:454.05000000000007px;height:16.35px"></div>
<div class="vl" style="left:543.4px;top:454.05000000000007px;height:16.35px"></div>
<div class="vl" style="left:593.8px;top:454.05000000000007px;height:16.35px"></div>
<div class="hl" style="top:469.6000000000001px"></div>
<div class="vl lt" style="left:281.8px;top:470.4000000000001px;height:16.35px"></div>
<div class="vl" style="left:332.8px;top:470.4000000000001px;height:16.35px"></div>
<div class="vl" style="left:384.0px;top:470.4000000000001px;height:16.35px"></div>
<div class="vl" style="left:441.7px;top:470.4000000000001px;height:16.35px"></div>
<div class="vl" style="left:492.6px;top:470.4000000000001px;height:16.35px"></div>
<div class="vl" style="left:543.4px;top:470.4000000000001px;height:16.35px"></div>
<div class="vl" style="left:593.8px;top:470.4000000000001px;height:16.35px"></div>
<div class="hl" style="top:485.9500000000001px"></div>
<div class="vl lt" style="left:281.8px;top:486.7500000000001px;height:16.35px"></div>
<div class="vl" style="left:332.8px;top:486.7500000000001px;height:16.35px"></div>
<div class="vl" style="left:384.0px;top:486.7500000000001px;height:16.35px"></div>
<div class="vl" style="left:441.7px;top:486.7500000000001px;height:16.35px"></div>
<div class="vl" style="left:492.6px;top:486.7500000000001px;height:16.35px"></div>
<div class="vl" style="left:543.4px;top:486.7500000000001px;height:16.35px"></div>
<div class="vl" style="left:593.8px;top:486.7500000000001px;height:16.35px"></div>
<div class="hl" style="top:502.3000000000001px"></div>
<div class="thdr" style="left:161.5px;top:386.5px;height:18.5px;line-height:18.5px">Balance Sheet Summary</div>
<div class="chdr" style="left:282.3px;width:51.0px;top:387.2px;height:18.5px;line-height:18.5px">May Actuals</div>
<div class="chdr" style="left:333.3px;width:51.19999999999999px;top:387.2px;height:18.5px;line-height:18.5px">May Targets</div>
<div class="chdr" style="left:384.5px;width:57.69999999999999px;top:387.2px;height:18.5px;line-height:18.5px">Monthly Variance</div>
<div class="chdr" style="left:442.2px;width:50.900000000000034px;top:387.2px;height:18.5px;line-height:18.5px">YTD Actuals</div>
<div class="chdr" style="left:493.1px;width:50.799999999999955px;top:387.2px;height:18.5px;line-height:18.5px">YTD Targets</div>
<div class="chdr" style="left:543.9px;width:50.39999999999998px;top:387.2px;height:18.5px;line-height:18.5px">YTD Variance</div>
<div class="chdr" style="left:594.3px;width:131.70000000000005px;top:387.2px;height:18.5px;line-height:18.5px">Notes</div>
<div class="num" style="left:282.3px;width:49.5px;top:405.0px;height:16.35px;line-height:16.35px">$35,000.00</div>
<div class="num" style="left:333.3px;width:49.69999999999999px;top:405.0px;height:16.35px;line-height:16.35px">$50,000.00</div>
<div class="num neg" style="left:384.5px;width:56.19999999999999px;top:405.0px;height:16.35px;line-height:16.35px">($15,000.00)</div>
<div class="num" style="left:442.2px;width:49.400000000000034px;top:405.0px;height:16.35px;line-height:16.35px">$35,000.00</div>
<div class="num" style="left:493.1px;width:49.299999999999955px;top:405.0px;height:16.35px;line-height:16.35px">$50,000.00</div>
<div class="num neg" style="left:543.9px;width:48.89999999999998px;top:405.0px;height:16.35px;line-height:16.35px">($15,000.00)</div>
<div class="lbl" style="top:405.0px;height:16.35px;line-height:16.35px">Period end cash flow</div>
<div class="note" style="top:406.5px">Cash flow differential was due to cash settlement of legal dispute with company name on May 8.</div>
<div class="num" style="left:282.3px;width:49.5px;top:421.35px;height:16.35px;line-height:16.35px">$20,000.00</div>
<div class="num" style="left:333.3px;width:49.69999999999999px;top:421.35px;height:16.35px;line-height:16.35px">$22,000.00</div>
<div class="num neg" style="left:384.5px;width:56.19999999999999px;top:421.35px;height:16.35px;line-height:16.35px">($2,000.00)</div>
<div class="num" style="left:442.2px;width:49.400000000000034px;top:421.35px;height:16.35px;line-height:16.35px">$20,000.00</div>
<div class="num" style="left:493.1px;width:49.299999999999955px;top:421.35px;height:16.35px;line-height:16.35px">$22,000.00</div>
<div class="num neg" style="left:543.9px;width:48.89999999999998px;top:421.35px;height:16.35px;line-height:16.35px">($2,000.00)</div>
<div class="lbl" style="top:421.35px;height:16.35px;line-height:16.35px">Accounts receivable</div>
<div class="num" style="left:282.3px;width:49.5px;top:437.70000000000005px;height:16.35px;line-height:16.35px">$25,000.00</div>
<div class="num" style="left:333.3px;width:49.69999999999999px;top:437.70000000000005px;height:16.35px;line-height:16.35px">$30,000.00</div>
<div class="num neg" style="left:384.5px;width:56.19999999999999px;top:437.70000000000005px;height:16.35px;line-height:16.35px">($5,000.00)</div>
<div class="num" style="left:442.2px;width:49.400000000000034px;top:437.70000000000005px;height:16.35px;line-height:16.35px">$25,000.00</div>
<div class="num" style="left:493.1px;width:49.299999999999955px;top:437.70000000000005px;height:16.35px;line-height:16.35px">$30,000.00</div>
<div class="num neg" style="left:543.9px;width:48.89999999999998px;top:437.70000000000005px;height:16.35px;line-height:16.35px">($5,000.00)</div>
<div class="lbl" style="top:437.70000000000005px;height:16.35px;line-height:16.35px">Inventory</div>
<div class="num" style="left:282.3px;width:49.5px;top:454.05000000000007px;height:16.35px;line-height:16.35px">$75,000.00</div>
<div class="num" style="left:333.3px;width:49.69999999999999px;top:454.05000000000007px;height:16.35px;line-height:16.35px">$90,000.00</div>
<div class="num neg" style="left:384.5px;width:56.19999999999999px;top:454.05000000000007px;height:16.35px;line-height:16.35px">($15,000.00)</div>
<div class="num" style="left:442.2px;width:49.400000000000034px;top:454.05000000000007px;height:16.35px;line-height:16.35px">$75,000.00</div>
<div class="num" style="left:493.1px;width:49.299999999999955px;top:454.05000000000007px;height:16.35px;line-height:16.35px">$90,000.00</div>
<div class="num neg" style="left:543.9px;width:48.89999999999998px;top:454.05000000000007px;height:16.35px;line-height:16.35px">($15,000.00)</div>
<div class="lbl" style="top:454.05000000000007px;height:16.35px;line-height:16.35px">Total liquid assets</div>
<div class="num" style="left:282.3px;width:49.5px;top:470.4000000000001px;height:16.35px;line-height:16.35px">$25,000.00</div>
<div class="num" style="left:333.3px;width:49.69999999999999px;top:470.4000000000001px;height:16.35px;line-height:16.35px">$25,000.00</div>
<div class="num" style="left:384.5px;width:56.19999999999999px;top:470.4000000000001px;height:16.35px;line-height:16.35px">$0.00</div>
<div class="num" style="left:442.2px;width:49.400000000000034px;top:470.4000000000001px;height:16.35px;line-height:16.35px">$25,000.00</div>
<div class="num" style="left:493.1px;width:49.299999999999955px;top:470.4000000000001px;height:16.35px;line-height:16.35px">$25,000.00</div>
<div class="num" style="left:543.9px;width:48.89999999999998px;top:470.4000000000001px;height:16.35px;line-height:16.35px">$0.00</div>
<div class="lbl" style="top:470.4000000000001px;height:16.35px;line-height:16.35px">Assets required by debt covenants</div>
<div class="num" style="left:282.3px;width:49.5px;top:486.7500000000001px;height:16.35px;line-height:16.35px">$50,000.00</div>
<div class="num" style="left:333.3px;width:49.69999999999999px;top:486.7500000000001px;height:16.35px;line-height:16.35px">$65,000.00</div>
<div class="num neg" style="left:384.5px;width:56.19999999999999px;top:486.7500000000001px;height:16.35px;line-height:16.35px">($15,000.00)</div>
<div class="num" style="left:442.2px;width:49.400000000000034px;top:486.7500000000001px;height:16.35px;line-height:16.35px">$50,000.00</div>
<div class="num" style="left:493.1px;width:49.299999999999955px;top:486.7500000000001px;height:16.35px;line-height:16.35px">$65,000.00</div>
<div class="num neg" style="left:543.9px;width:48.89999999999998px;top:486.7500000000001px;height:16.35px;line-height:16.35px">($15,000.00)</div>
<div class="lbl" style="top:486.7500000000001px;height:16.35px;line-height:16.35px">Debt covenant buffer</div>
</body></html>
